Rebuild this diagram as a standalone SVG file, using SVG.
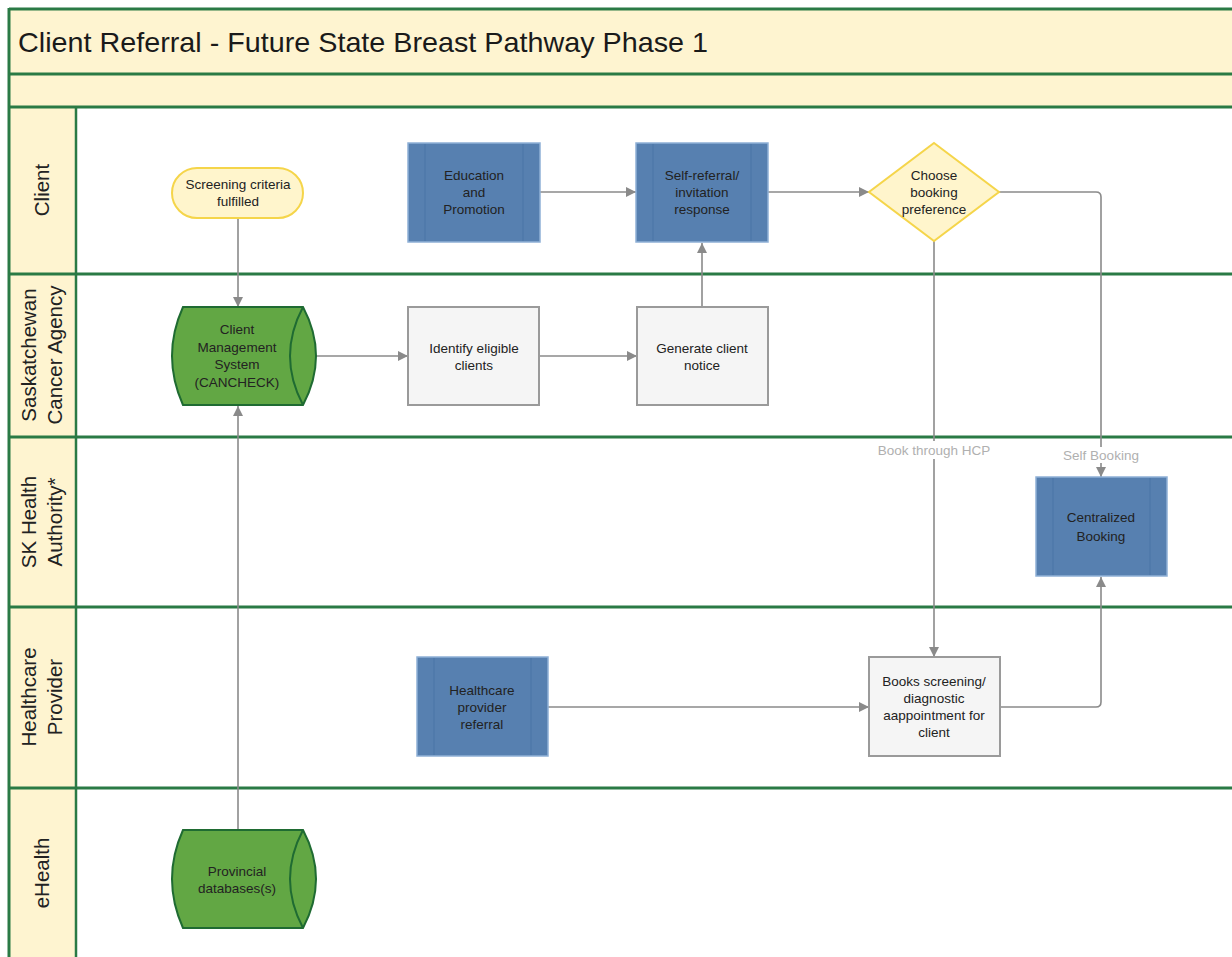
<svg xmlns="http://www.w3.org/2000/svg" width="1232" height="957" viewBox="0 0 1232 957">
<defs>
<marker id="arr" viewBox="0 0 10 10" refX="10" refY="5" markerWidth="10" markerHeight="10" markerUnits="userSpaceOnUse" orient="auto">
<path d="M0,0 L10,5 L0,10 z" fill="#8a8a8a"/>
</marker>
<style>
.lane{stroke:#2a7a45;stroke-width:3;fill:none}
.band{fill:#fef4d0}
.lbl{font-family:"Liberation Sans",Arial,sans-serif;font-size:20.5px;fill:#222;text-anchor:middle}
.t{font-family:"Liberation Sans",Arial,sans-serif;font-size:13.5px;fill:#222;text-anchor:middle}
.blue{fill:#5780b0;stroke:#8fb0d6;stroke-width:1.5}
.bline{stroke:#4a75a6;stroke-width:1}
.gray{fill:#f5f5f5;stroke:#9a9a9a;stroke-width:2}
.db{fill:#62a744;stroke:#1f6b32;stroke-width:2}
.conn{stroke:#8a8a8a;stroke-width:1.6;fill:none}
.el{font-family:"Liberation Sans",Arial,sans-serif;font-size:13.5px;fill:#b0b0b0;text-anchor:middle}
</style>
</defs>
<rect width="1232" height="957" fill="#ffffff"/>
<g id="pool">
<rect class="band" x="9" y="9" width="1230" height="98"/>
<rect class="band" x="9" y="107" width="67" height="860"/>
<line class="lane" x1="9" y1="9" x2="1240" y2="9"/>
<line class="lane" x1="9" y1="74" x2="1240" y2="74"/>
<line class="lane" x1="9" y1="107" x2="1240" y2="107"/>
<line class="lane" x1="9" y1="274" x2="1240" y2="274"/>
<line class="lane" x1="9" y1="437" x2="1240" y2="437"/>
<line class="lane" x1="9" y1="607" x2="1240" y2="607"/>
<line class="lane" x1="9" y1="788" x2="1240" y2="788"/>
<line class="lane" x1="9" y1="8" x2="9" y2="960"/>
<line class="lane" x1="76" y1="107" x2="76" y2="960" style="stroke-width:2.5"/>
<text x="18" y="52" font-family="Liberation Sans,Arial,sans-serif" font-size="28" fill="#1a1a1a" textLength="690" lengthAdjust="spacingAndGlyphs">Client Referral - Future State Breast Pathway Phase 1</text>
<text class="lbl" transform="translate(49,190) rotate(-90)">Client</text>
<text class="lbl" transform="translate(36,355) rotate(-90)">Saskatchewan</text>
<text class="lbl" transform="translate(62,355) rotate(-90)">Cancer Agency</text>
<text class="lbl" transform="translate(36,522) rotate(-90)">SK Health</text>
<text class="lbl" transform="translate(62,522) rotate(-90)">Authority*</text>
<text class="lbl" transform="translate(36,697) rotate(-90)">Healthcare</text>
<text class="lbl" transform="translate(62,697) rotate(-90)">Provider</text>
<text class="lbl" transform="translate(49,873) rotate(-90)">eHealth</text>
</g>
<g id="connectors">
<line class="conn" x1="238" y1="218" x2="238" y2="307" marker-end="url(#arr)"/>
<line class="conn" x1="238" y1="830" x2="238" y2="406" marker-end="url(#arr)"/>
<line class="conn" x1="316" y1="356" x2="408" y2="356" marker-end="url(#arr)"/>
<line class="conn" x1="539" y1="356" x2="637" y2="356" marker-end="url(#arr)"/>
<line class="conn" x1="702" y1="307" x2="702" y2="243" marker-end="url(#arr)"/>
<line class="conn" x1="540" y1="192" x2="636" y2="192" marker-end="url(#arr)"/>
<line class="conn" x1="768" y1="192" x2="869" y2="192" marker-end="url(#arr)"/>
<line class="conn" x1="934" y1="241" x2="934" y2="657" marker-end="url(#arr)"/>
<path class="conn" d="M999,192 L1096,192 Q1101,192 1101,197 L1101,477" marker-end="url(#arr)"/>
<path class="conn" d="M1000,707 L1096,707 Q1101,707 1101,702 L1101,577" marker-end="url(#arr)"/>
<line class="conn" x1="548" y1="707" x2="869" y2="707" marker-end="url(#arr)"/>
<rect x="870" y="441" width="128" height="18" fill="#ffffff"/>
<text class="el" x="934" y="455">Book through HCP</text>
<rect x="1058" y="447" width="86" height="16" fill="#ffffff"/>
<text class="el" x="1101" y="460">Self Booking</text>
</g>
<g id="screening">
<rect x="172" y="168" width="131" height="50" rx="25" fill="#fff5cc" stroke="#f5d54a" stroke-width="2"/>
<text class="t" x="238" y="189">Screening criteria</text>
<text class="t" x="238" y="206">fulfilled</text>
</g>
<g id="education">
<rect class="blue" x="408" y="143" width="132" height="99"/>
<line class="bline" x1="425" y1="144" x2="425" y2="241"/>
<line class="bline" x1="523" y1="144" x2="523" y2="241"/>
<text class="t" x="474" y="180">Education</text>
<text class="t" x="474" y="197">and</text>
<text class="t" x="474" y="214">Promotion</text>
</g>
<g id="selfreferral">
<rect class="blue" x="636" y="143" width="132" height="99"/>
<line class="bline" x1="653" y1="144" x2="653" y2="241"/>
<line class="bline" x1="751" y1="144" x2="751" y2="241"/>
<text class="t" x="702" y="180">Self-referral/</text>
<text class="t" x="702" y="197">invitation</text>
<text class="t" x="702" y="214">response</text>
</g>
<g id="choose">
<polygon points="934,143 999,192 934,241 869,192" fill="#fff5cc" stroke="#f5d54a" stroke-width="2"/>
<text class="t" x="934" y="180">Choose</text>
<text class="t" x="934" y="197">booking</text>
<text class="t" x="934" y="214">preference</text>
</g>
<g id="cms">
<path class="db" d="M183,307 L303,307 Q329,356 303,405 L183,405 Q161,356 183,307 Z"/>
<path class="db" d="M303,307 Q277,356 303,405" fill="none"/>
<text class="t" x="237" y="334">Client</text>
<text class="t" x="237" y="352">Management</text>
<text class="t" x="237" y="369">System</text>
<text class="t" x="237" y="387">(CANCHECK)</text>
</g>
<g id="identify">
<rect class="gray" x="408" y="307" width="131" height="98"/>
<text class="t" x="474" y="353">Identify eligible</text>
<text class="t" x="474" y="370">clients</text>
</g>
<g id="generate">
<rect class="gray" x="637" y="307" width="131" height="98"/>
<text class="t" x="702" y="353">Generate client</text>
<text class="t" x="702" y="370">notice</text>
</g>
<g id="centralized">
<rect class="blue" x="1036" y="477" width="131" height="99"/>
<line class="bline" x1="1053" y1="478" x2="1053" y2="575"/>
<line class="bline" x1="1150" y1="478" x2="1150" y2="575"/>
<text class="t" x="1101" y="522">Centralized</text>
<text class="t" x="1101" y="541">Booking</text>
</g>
<g id="hcpreferral">
<rect class="blue" x="417" y="657" width="131" height="99"/>
<line class="bline" x1="434" y1="658" x2="434" y2="755"/>
<line class="bline" x1="531" y1="658" x2="531" y2="755"/>
<text class="t" x="482" y="695">Healthcare</text>
<text class="t" x="482" y="712">provider</text>
<text class="t" x="482" y="729">referral</text>
</g>
<g id="books">
<rect class="gray" x="869" y="657" width="131" height="99"/>
<text class="t" x="934" y="686">Books screening/</text>
<text class="t" x="934" y="703">diagnostic</text>
<text class="t" x="934" y="720">aappointment for</text>
<text class="t" x="934" y="737">client</text>
</g>
<g id="provincial">
<path class="db" d="M183,830 L303,830 Q329,879 303,928 L183,928 Q161,879 183,830 Z"/>
<path class="db" d="M303,830 Q277,879 303,928" fill="none"/>
<text class="t" x="237" y="876">Provincial</text>
<text class="t" x="237" y="893">databases(s)</text>
</g>
</svg>
